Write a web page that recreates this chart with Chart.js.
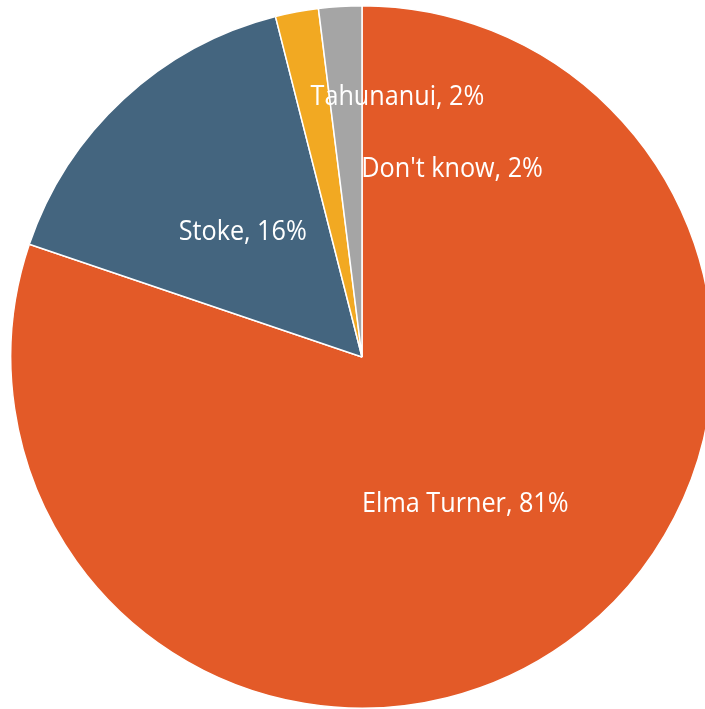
<!DOCTYPE html>
<html>
<head>
<meta charset="utf-8">
<script src="https://cdn.jsdelivr.net/npm/chart.js@4"></script>
<style>
  html, body { margin: 0; padding: 0; background: #fff; overflow: hidden; width: 705px; height: 709px; }
  #wrap { position: absolute; left: 10px; top: 5px; width: 704px; height: 704px; }
</style>
</head>
<body>
<div id="wrap"><canvas id="pie"></canvas></div>
<script>
const labels = ['Elma Turner', 'Stoke', 'Tahunanui', "Don't know"];
const percents = [81, 16, 2, 2];
const colours = ['#E35A28', '#44657F', '#F2A922', '#A5A5A5'];

// small slices get their labels nudged away from the narrow wedge
const labelNudge = [[1, 2], [0, 2], [68, -89], [101, -15]];

const sliceLabels = {
  id: 'sliceLabels',
  afterDatasetsDraw(chart) {
    const ctx = chart.ctx;
    const arcs = chart.getDatasetMeta(0).data;
    ctx.save();
    ctx.fillStyle = '#fff';
    ctx.font = '28px "Open Sans"';
    ctx.textAlign = 'center';
    ctx.textBaseline = 'alphabetic';
    arcs.forEach((arc, i) => {
      const { x, y, startAngle, endAngle, outerRadius } = arc.getProps(['x', 'y', 'startAngle', 'endAngle', 'outerRadius']);
      const mid = (startAngle + endAngle) / 2;
      const r = outerRadius * 0.5;
      const px = x + Math.cos(mid) * r + labelNudge[i][0];
      const py = y + Math.sin(mid) * r + labelNudge[i][1];
      ctx.save();
      ctx.translate(px, py + 10);
      ctx.scale(0.9, 1);
      ctx.fillText(labels[i] + ', ' + percents[i] + '%', 0, 0);
      ctx.restore();
    });
    ctx.restore();
  }
};

new Chart(document.getElementById('pie'), {
  type: 'pie',
  data: {
    labels: labels,
    datasets: [{
      data: percents,
      backgroundColor: colours,
      borderColor: '#fff',
      borderWidth: 1.5
    }]
  },
  options: {
    responsive: true,
    maintainAspectRatio: false,
    animation: false,
    devicePixelRatio: 1,
    layout: { padding: 0 },
    plugins: {
      legend: { display: false },
      tooltip: { enabled: false }
    }
  },
  plugins: [sliceLabels]
});
</script>
</body>
</html>
